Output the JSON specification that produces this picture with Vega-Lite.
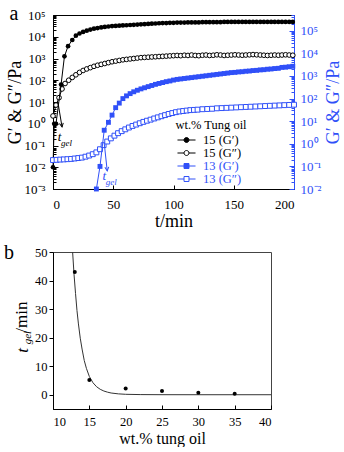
{
  "$schema": "https://vega.github.io/schema/vega-lite/v6.json",
  "background": "white",
  "padding": {"left": 3, "top": 3, "right": 0, "bottom": 0},
  "spacing": 11,
  "config": {
    "font": "Liberation Serif",
    "view": {"stroke": "black"},
    "axis": {"labelFont": "Liberation Serif", "titleFont": "Liberation Serif", "labelFontSize": 13, "titleFontSize": 18, "titleFontWeight": "normal", "grid": false, "domainColor": "black", "tickColor": "black", "labelColor": "black", "titleColor": "black"}
  },
  "datasets": {
    "a": [{"t":0,"v":0.01},{"t":1,"v":1},{"t":2.5,"v":1},{"t":6.7,"v":63},{"t":9.5,"v":1260},{"t":12.5,"v":3700},{"t":16,"v":7080},{"t":19,"v":11220},{"t":22,"v":14130},{"t":25,"v":16600},{"t":28,"v":19050},{"t":31,"v":21380},{"t":34,"v":23440},{"t":37,"v":25120},{"t":40,"v":26920},{"t":43,"v":28180},{"t":46,"v":29510},{"t":49,"v":30900},{"t":52,"v":31620},{"t":55,"v":32360},{"t":58,"v":33110},{"t":61,"v":33880},{"t":64,"v":34670},{"t":67,"v":35480},{"t":70,"v":36310},{"t":73,"v":37150},{"t":76,"v":38020},{"t":79,"v":38900},{"t":82,"v":39810},{"t":85,"v":40740},{"t":88,"v":41690},{"t":91,"v":42660},{"t":94,"v":42660},{"t":97,"v":43650},{"t":100,"v":43650},{"t":103,"v":44670},{"t":106,"v":44670},{"t":109,"v":44670},{"t":112,"v":45710},{"t":115,"v":45710},{"t":118,"v":45710},{"t":121,"v":45710},{"t":124,"v":46770},{"t":127,"v":46770},{"t":130,"v":46770},{"t":133,"v":46770},{"t":136,"v":46770},{"t":139,"v":46770},{"t":142,"v":47860},{"t":145,"v":47860},{"t":148,"v":47860},{"t":151,"v":47860},{"t":154,"v":47860},{"t":157,"v":47860},{"t":160,"v":47860},{"t":163,"v":47860},{"t":166,"v":47860},{"t":169,"v":47860},{"t":172,"v":47860},{"t":175,"v":47860},{"t":178,"v":47860},{"t":181,"v":47860},{"t":184,"v":47860},{"t":187,"v":47860},{"t":190,"v":47860},{"t":193,"v":47860},{"t":196,"v":47860},{"t":199,"v":47860}],
    "b": [{"t":0,"v":2.29},{"t":2.5,"v":7.24},{"t":5,"v":15.8},{"t":7.5,"v":39.8},{"t":10,"v":70.8},{"t":13,"v":100},{"t":16,"v":135},{"t":19,"v":178},{"t":22,"v":229},{"t":25,"v":282},{"t":28,"v":331},{"t":31,"v":380},{"t":34,"v":437},{"t":37,"v":490},{"t":40,"v":537},{"t":43,"v":589},{"t":46,"v":646},{"t":49,"v":708},{"t":52,"v":759},{"t":55,"v":813},{"t":58,"v":871},{"t":61,"v":912},{"t":64,"v":955},{"t":67,"v":1000},{"t":70,"v":1047},{"t":73,"v":1096},{"t":76,"v":1122},{"t":79,"v":1148},{"t":82,"v":1175},{"t":85,"v":1202},{"t":88,"v":1230},{"t":91,"v":1259},{"t":94,"v":1288},{"t":97,"v":1318},{"t":100,"v":1349},{"t":103,"v":1380},{"t":106,"v":1349},{"t":109,"v":1413},{"t":112,"v":1380},{"t":115,"v":1445},{"t":118,"v":1380},{"t":121,"v":1349},{"t":124,"v":1413},{"t":127,"v":1445},{"t":130,"v":1380},{"t":133,"v":1413},{"t":136,"v":1479},{"t":139,"v":1445},{"t":142,"v":1380},{"t":145,"v":1413},{"t":148,"v":1445},{"t":151,"v":1479},{"t":154,"v":1445},{"t":157,"v":1413},{"t":160,"v":1445},{"t":163,"v":1479},{"t":166,"v":1514},{"t":169,"v":1479},{"t":172,"v":1445},{"t":175,"v":1413},{"t":178,"v":1380},{"t":181,"v":1413},{"t":184,"v":1445},{"t":187,"v":1413},{"t":190,"v":1445},{"t":193,"v":1479},{"t":196,"v":1445},{"t":199,"v":1413}],
    "c": [{"t":36,"v":0.01},{"t":39,"v":0.1},{"t":42.5,"v":3.98},{"t":46,"v":8.9},{"t":49,"v":18.6},{"t":52,"v":39.8},{"t":55,"v":63.1},{"t":58,"v":100},{"t":61,"v":132},{"t":64,"v":166},{"t":67,"v":200},{"t":70,"v":234},{"t":73,"v":269},{"t":76,"v":302},{"t":79,"v":339},{"t":82,"v":380},{"t":85,"v":427},{"t":88,"v":468},{"t":91,"v":513},{"t":94,"v":562},{"t":97,"v":603},{"t":100,"v":661},{"t":103,"v":708},{"t":106,"v":741},{"t":109,"v":776},{"t":112,"v":813},{"t":115,"v":851},{"t":118,"v":891},{"t":121,"v":933},{"t":124,"v":977},{"t":127,"v":1023},{"t":130,"v":1072},{"t":133,"v":1122},{"t":136,"v":1175},{"t":139,"v":1230},{"t":142,"v":1288},{"t":145,"v":1349},{"t":148,"v":1413},{"t":151,"v":1445},{"t":154,"v":1514},{"t":157,"v":1549},{"t":160,"v":1622},{"t":163,"v":1660},{"t":166,"v":1738},{"t":169,"v":1778},{"t":172,"v":1862},{"t":175,"v":1905},{"t":178,"v":1995},{"t":181,"v":2042},{"t":184,"v":2138},{"t":187,"v":2188},{"t":190,"v":2399},{"t":193,"v":2455},{"t":196,"v":2570},{"t":199,"v":2692}],
    "d": [{"t":0,"v":0.191},{"t":3,"v":0.195},{"t":6,"v":0.2},{"t":9,"v":0.204},{"t":12,"v":0.209},{"t":15,"v":0.214},{"t":18,"v":0.224},{"t":21,"v":0.234},{"t":24,"v":0.245},{"t":27,"v":0.269},{"t":30,"v":0.302},{"t":33,"v":0.347},{"t":36,"v":0.417},{"t":39,"v":0.575},{"t":42,"v":0.871},{"t":45,"v":1.26},{"t":48,"v":1.74},{"t":51,"v":2.29},{"t":54,"v":2.95},{"t":57,"v":3.63},{"t":60,"v":4.37},{"t":63,"v":5.25},{"t":66,"v":6.17},{"t":69,"v":7.08},{"t":72,"v":8.13},{"t":75,"v":9.33},{"t":78,"v":10.5},{"t":81,"v":11.7},{"t":84,"v":13.2},{"t":87,"v":14.8},{"t":90,"v":16.6},{"t":93,"v":18.6},{"t":96,"v":20.9},{"t":99,"v":22.9},{"t":102,"v":25.1},{"t":105,"v":26.9},{"t":108,"v":28.2},{"t":111,"v":29.5},{"t":114,"v":30.9},{"t":117,"v":31.6},{"t":120,"v":32.4},{"t":124,"v":33.9},{"t":128,"v":34.7},{"t":132,"v":35.5},{"t":136,"v":37.2},{"t":140,"v":38.0},{"t":144,"v":38.9},{"t":148,"v":39.8},{"t":152,"v":40.7},{"t":156,"v":41.7},{"t":160,"v":42.7},{"t":164,"v":43.7},{"t":168,"v":44.7},{"t":172,"v":45.7},{"t":176,"v":46.8},{"t":180,"v":47.9},{"t":184,"v":49.0},{"t":188,"v":50.1},{"t":192,"v":51.3},{"t":196,"v":52.5},{"t":200,"v":53.7}],
    "arrowA": [{"t":4.2,"v":8.9,"t2":7.5,"v2":0.71}],
    "labA": [{"t":5.4,"v":0.245}],
    "arrowB": [{"t":42.5,"v":1.08,"t2":45,"v2":0.063}],
    "labB": [{"t":42.5,"v":0.038}],
    "tagA": [{"t":-32.5,"v":59000,"txt":"a"}],
    "pts": [{"x":13,"y":43},{"x":15,"y":5.2},{"x":20,"y":2.2},{"x":25,"y":1.3},{"x":30,"y":0.7},{"x":35,"y":0.3}],
    "curve": [{"x":12.7,"y":50},{"x":12.9,"y":42},{"x":13.1,"y":35.5},{"x":13.3,"y":29.5},{"x":13.5,"y":24.8},{"x":13.75,"y":19.8},{"x":14,"y":16},{"x":14.3,"y":12},{"x":14.6,"y":9.2},{"x":15,"y":6.4},{"x":15.5,"y":4.2},{"x":16,"y":2.8},{"x":16.5,"y":1.9},{"x":17,"y":1.3},{"x":17.5,"y":0.9},{"x":18,"y":0.6},{"x":19,"y":0.3},{"x":20,"y":0.15},{"x":22,"y":0.05},{"x":25,"y":0.01},{"x":30,"y":0},{"x":35,"y":0},{"x":40,"y":0}],
    "tagB": [{"x":3.95,"y":47.6,"txt":"b"}],
    "ytitle": [{"x":5.87,"y":15.5,"p":"t"},{"x":6.56,"y":20,"p":"gel"},{"x":5.74,"y":27.2,"p":"/min"}]
  },
  "vconcat": [
    {
      "width": 241,
      "height": 174,
      "resolve": {"scale": {"y": "independent"}},
      "encoding": {
        "x": {"field": "t", "type": "quantitative", "scale": {"domain": [0, 200], "nice": false},
              "axis": {"values": [0, 50, 100, 150, 200], "tickSize": -4, "labelPadding": 13, "title": "t/min", "titleFontSize": 18, "titlePadding": 1}}
      },
      "layer": [
        {
          "encoding": {
            "y": {"field": "v", "type": "quantitative", "scale": {"type": "log", "domain": [0.001, 100000], "nice": false},
                  "axis": {"orient": "left", "title": "G′ & G″/Pa", "titlePadding": 1, "minExtent": 28, "maxExtent": 28, "labelOverlap": false,
                           "values": [0.001,0.002,0.003,0.004,0.005,0.006,0.007,0.008,0.009,0.01,0.02,0.03,0.04,0.05,0.06,0.07,0.08,0.09,0.1,0.2,0.3,0.4,0.5,0.6,0.7,0.8,0.9,1,2,3,4,5,6,7,8,9,10,20,30,40,50,60,70,80,90,100,200,300,400,500,600,700,800,900,1000,2000,3000,4000,5000,6000,7000,8000,9000,10000,20000,30000,40000,50000,60000,70000,80000,90000,100000],
                           "labelExpr": "abs(log(datum.value)/LN10-round(log(datum.value)/LN10))<0.01 ? '10' + ['⁻³','⁻²','⁻¹','⁰','¹','²','³','⁴','⁵'][round(log(datum.value)/LN10)+3] : ''",
                           "tickSize": {"condition": {"test": "abs(log(datum.value)/LN10-round(log(datum.value)/LN10))<0.01", "value": -5}, "value": -3},
                           "labelPadding": 13}}
          },
          "layer": [
            {"data": {"name": "b"}, "mark": {"type": "line", "color": "black", "strokeWidth": 1}},
            {"data": {"name": "b"}, "mark": {"type": "point", "shape": "circle", "filled": false, "fill": "white", "stroke": "black", "size": 22, "strokeWidth": 1, "opacity": 1}},
            {"data": {"name": "a"}, "mark": {"type": "line", "color": "black", "strokeWidth": 1}},
            {"data": {"name": "a"}, "mark": {"type": "point", "shape": "circle", "filled": true, "color": "black", "size": 22, "opacity": 1}},
            {"data": {"name": "arrowA"}, "mark": {"type": "rule", "color": "black", "strokeWidth": 1},
             "encoding": {"x2": {"field": "t2"}, "y2": {"field": "v2"}}},
            {"data": {"name": "arrowA"}, "mark": {"type": "point", "shape": "M-0.5,-1L0,0L0.5,-1", "filled": false, "color": "black", "size": 60, "angle": -10, "strokeWidth": 1, "opacity": 1},
             "encoding": {"x": {"field": "t2", "type": "quantitative", "title": "t/min"}, "y": {"field": "v2", "type": "quantitative", "title": "G′ & G″/Pa"}}},
            {"data": {"name": "labA"}, "mark": {"type": "text", "text": "t", "fontStyle": "italic", "fontSize": 13, "color": "black", "baseline": "middle"}},
            {"data": {"name": "labA"}, "mark": {"type": "text", "text": "gel", "fontStyle": "italic", "fontSize": 9, "color": "black", "baseline": "middle", "dx": 7, "dy": 6}},
            {"data": {"name": "tagA"}, "mark": {"type": "text", "fontSize": 20, "baseline": "alphabetic", "align": "center", "color": "black"},
             "encoding": {"text": {"field": "txt"}}}
          ]
        },
        {
          "encoding": {
            "y": {"field": "v", "type": "quantitative", "scale": {"type": "log", "domain": [0.01, 500000], "nice": false},
                  "axis": {"orient": "right", "title": "G′ & G″/Pa", "titleColor": "#3050f8", "labelColor": "#3050f8", "tickColor": "#3050f8", "domainColor": "#3050f8", "titleAngle": 270, "titleBaseline": "top", "titlePadding": 2, "minExtent": 28, "maxExtent": 28, "labelOverlap": false,
                           "values": [0.01,0.02,0.03,0.04,0.05,0.06,0.07,0.08,0.09,0.1,0.2,0.3,0.4,0.5,0.6,0.7,0.8,0.9,1,2,3,4,5,6,7,8,9,10,20,30,40,50,60,70,80,90,100,200,300,400,500,600,700,800,900,1000,2000,3000,4000,5000,6000,7000,8000,9000,10000,20000,30000,40000,50000,60000,70000,80000,90000,100000,200000,300000,400000,500000],
                           "labelExpr": "abs(log(datum.value)/LN10-round(log(datum.value)/LN10))<0.01 ? '10' + ['⁻²','⁻¹','⁰','¹','²','³','⁴','⁵'][round(log(datum.value)/LN10)+2] : ''",
                           "tickSize": {"condition": {"test": "abs(log(datum.value)/LN10-round(log(datum.value)/LN10))<0.01", "value": -5}, "value": -3},
                           "labelPadding": 11}}
          },
          "layer": [
            {"data": {"name": "d"}, "mark": {"type": "line", "color": "#3050f8", "strokeWidth": 1}},
            {"data": {"name": "d"}, "mark": {"type": "point", "shape": "square", "filled": false, "fill": "white", "stroke": "#3050f8", "size": 24, "strokeWidth": 1, "opacity": 1}},
            {"data": {"name": "c"}, "mark": {"type": "line", "color": "#3050f8", "strokeWidth": 1}},
            {"data": {"name": "c"}, "mark": {"type": "point", "shape": "square", "filled": true, "color": "#3050f8", "size": 24, "opacity": 1}},
            {"data": {"name": "arrowB"}, "mark": {"type": "rule", "color": "#3050f8", "strokeWidth": 1},
             "encoding": {"x2": {"field": "t2"}, "y2": {"field": "v2"}}},
            {"data": {"name": "arrowB"}, "mark": {"type": "point", "shape": "M-0.5,-1L0,0L0.5,-1", "filled": false, "color": "#3050f8", "size": 60, "angle": -6, "strokeWidth": 1, "opacity": 1},
             "encoding": {"x": {"field": "t2", "type": "quantitative", "title": "t/min"}, "y": {"field": "v2", "type": "quantitative", "title": "G′ & G″/Pa"}}},
            {"data": {"name": "labB"}, "mark": {"type": "text", "text": "t", "fontStyle": "italic", "fontSize": 13, "color": "#3050f8", "baseline": "middle"}},
            {"data": {"name": "labB"}, "mark": {"type": "text", "text": "gel", "fontStyle": "italic", "fontSize": 9, "color": "#3050f8", "baseline": "middle", "dx": 7, "dy": 6}},
            {"data": {"values": []}, "mark": {"type": "point", "filled": false, "strokeWidth": 1, "opacity": 1},
             "encoding": {
               "color": {"field": "s", "type": "nominal", "scale": {"domain": ["15 (G′)", "15 (G″)", "13 (G′)", "13 (G″)"], "range": ["black", "black", "#3050f8", "#3050f8"]},
                         "legend": {"title": "wt.% Tung oil", "orient": "none", "legendX": 122, "legendY": 104, "titleFont": "Liberation Serif", "titleFontSize": 12.5, "titleFontWeight": "normal", "titleAnchor": "middle", "titlePadding": 2, "labelFont": "Liberation Serif", "labelFontSize": 12.5, "symbolSize": 127, "symbolStrokeWidth": 1, "labelOffset": 10, "rowPadding": 0, "labelColor": {"expr": "indexof(datum.label,'13')==0 ? '#3050f8' : 'black'"}}},
               "shape": {"field": "s", "type": "nominal", "scale": {"domain": ["15 (G′)", "15 (G″)", "13 (G′)", "13 (G″)"], "range": ["M-1.6,0H-0.44M0.44,0H1.6M-0.44,0A0.44,0.44,0,1,1,0.44,0A0.44,0.44,0,1,1,-0.44,0Z", "M-1.6,0H-0.44M0.44,0H1.6M-0.44,0A0.44,0.44,0,1,1,0.44,0A0.44,0.44,0,1,1,-0.44,0Z", "M-1.6,0H-0.44M0.44,0H1.6M-0.44,-0.44H0.44V0.44H-0.44Z", "M-1.6,0H-0.44M0.44,0H1.6M-0.44,-0.44H0.44V0.44H-0.44Z"]},
                         "legend": {"title": "wt.% Tung oil"}},
               "fill": {"field": "s", "type": "nominal", "scale": {"domain": ["15 (G′)", "15 (G″)", "13 (G′)", "13 (G″)"], "range": ["black", "white", "#3050f8", "white"]},
                        "legend": {"title": "wt.% Tung oil"}}
             }}
          ]
        }
      ]
    },
    {
      "width": 218,
      "height": 157,
      "view": {"stroke": "#444"},
      "encoding": {
        "x": {"field": "x", "type": "quantitative", "scale": {"domain": [10, 40], "nice": false},
              "axis": {"values": [10, 15, 20, 25, 30, 35, 40], "tickSize": -4, "labelPadding": 10, "title": "wt.% tung oil", "titleFontSize": 16, "labelFontSize": 12.5, "titlePadding": 3}},
        "y": {"field": "y", "type": "quantitative", "scale": {"domain": [-5, 50], "nice": false},
              "axis": {"values": [0, 10, 20, 30, 40, 50], "tickSize": 4, "labelPadding": 2, "title": null, "labelFontSize": 12.5}}
      },
      "layer": [
        {"data": {"name": "curve"}, "mark": {"type": "line", "color": "#333", "strokeWidth": 1, "clip": true}},
        {"data": {"name": "pts"}, "mark": {"type": "point", "filled": true, "color": "black", "size": 16, "opacity": 1}},
        {"data": {"name": "ytitle"}, "transform": [{"filter": "datum.p == 't'"}], "mark": {"type": "text", "fontStyle": "italic", "fontSize": 17, "angle": 270, "baseline": "middle", "align": "center", "color": "black"},
         "encoding": {"text": {"field": "p"}}},
        {"data": {"name": "ytitle"}, "transform": [{"filter": "datum.p == 'gel'"}], "mark": {"type": "text", "fontStyle": "italic", "fontSize": 11, "angle": 270, "baseline": "middle", "align": "center", "color": "black"},
         "encoding": {"text": {"field": "p"}}},
        {"data": {"name": "ytitle"}, "transform": [{"filter": "datum.p == '/min'"}], "mark": {"type": "text", "fontSize": 17, "angle": 270, "baseline": "middle", "align": "center", "color": "black"},
         "encoding": {"text": {"field": "p"}}},
        {"data": {"name": "tagB"}, "mark": {"type": "text", "fontSize": 20, "baseline": "alphabetic", "align": "center", "color": "black"},
         "encoding": {"text": {"field": "txt"}}}
      ]
    }
  ]
}
